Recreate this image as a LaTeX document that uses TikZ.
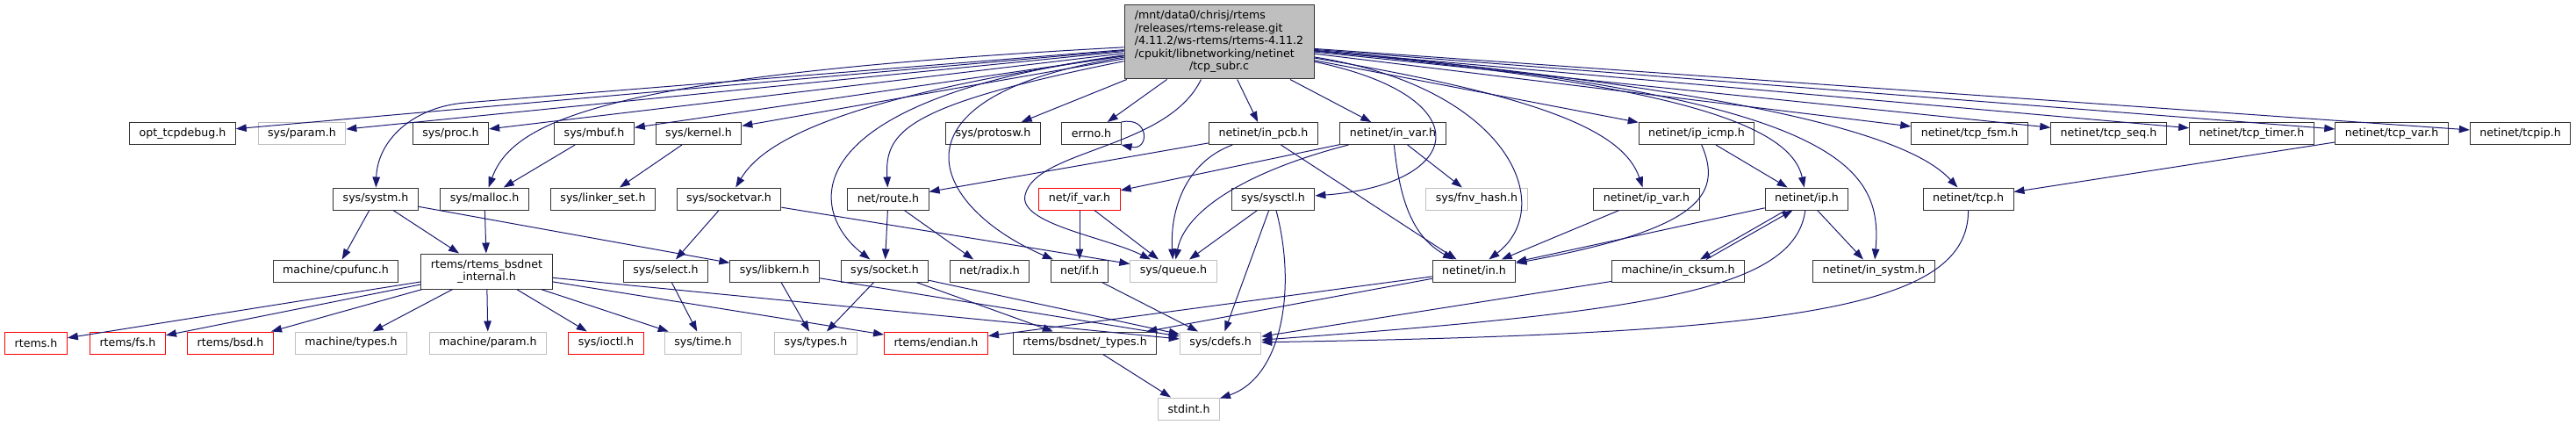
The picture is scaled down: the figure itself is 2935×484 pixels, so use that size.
\documentclass[tikz,border=0pt]{standalone}
\usepackage{fontspec}
\setmainfont{DejaVu Sans}
\usetikzlibrary{arrows.meta}

\definecolor{edgeblue}{RGB}{25,25,112}
\definecolor{lightgrey}{RGB}{191,191,191}

\tikzset{
  hdr/.style={draw=black!80, line width=1pt, rectangle, inner xsep=11pt, inner ysep=0pt,
    minimum height=25pt, font=\fontsize{12.6}{14.5}\selectfont},
  hdrgray/.style={hdr, draw=lightgrey},
  hdrred/.style={hdr, draw=red},
  dep/.style={draw=edgeblue, line width=1pt, -{Triangle[length=12pt,width=8.5pt]}}
}

\begin{document}
\begin{tikzpicture}[x=1pt, y=-1pt]
  \useasboundingbox (0,0) rectangle (2935,484);

  % The source file
  \node[hdr, fill=lightgrey, minimum width=216pt, minimum height=84pt] (root) at (1389,48)
    {\begin{tabular}{@{}l@{}}/mnt/data0/chrisj/rtems\\/releases/rtems-release.git\\/4.11.2/ws-rtems/rtems-4.11.2\\/cpukit/libnetworking/netinet\\\multicolumn{1}{@{}c@{}}{/tcp\_subr.c}\end{tabular}};

  % First row of headers
  \node[hdr] (optdbg) at (208,152) {opt\_tcpdebug.h};
  \node[hdrgray] (param) at (344,152) {sys/param.h};
  \node[hdr] (proc) at (513.5,152) {sys/proc.h};
  \node[hdr] (mbuf) at (677,152) {sys/mbuf.h};
  \node[hdr] (kernel) at (796,152) {sys/kernel.h};
  \node[hdr] (protosw) at (1131.5,152) {sys/protosw.h};
  \node[hdr] (errno) at (1243.5,152) {errno.h};
  \node[hdr] (inpcb) at (1439.5,152) {netinet/in\_pcb.h};
  \node[hdr] (invar) at (1587,152) {netinet/in\_var.h};
  \node[hdr] (ipicmp) at (1933,152) {netinet/ip\_icmp.h};
  \node[hdr] (tcpfsm) at (2244,152) {netinet/tcp\_fsm.h};
  \node[hdr] (tcpseq) at (2402.5,152) {netinet/tcp\_seq.h};
  \node[hdr] (tcptimer) at (2565.5,152) {netinet/tcp\_timer.h};
  \node[hdr] (tcpvar) at (2725,152) {netinet/tcp\_var.h};
  \node[hdr] (tcpip) at (2871.5,152) {netinet/tcpip.h};

  % Second row
  \node[hdr] (systm) at (428,226.5) {sys/systm.h};
  \node[hdr] (malloc) at (552,226.5) {sys/malloc.h};
  \node[hdr] (linker) at (687,226.5) {sys/linker\_set.h};
  \node[hdr] (socketvar) at (830.5,226.5) {sys/socketvar.h};
  \node[hdr] (route) at (1012,226.5) {net/route.h};
  \node[hdrred] (ifvar) at (1230,226.5) {net/if\_var.h};
  \node[hdr] (sysctl) at (1450.5,226.5) {sys/sysctl.h};
  \node[hdrgray] (fnvhash) at (1682.5,226.5) {sys/fnv\_hash.h};
  \node[hdr] (ipvar) at (1876,226.5) {netinet/ip\_var.h};
  \node[hdr] (ip) at (2058.5,226.5) {netinet/ip.h};
  \node[hdr] (tcp) at (2242.5,226.5) {netinet/tcp.h};

  % Third row
  \node[hdr] (cpufunc) at (382.5,308.5) {machine/cpufunc.h};
  \node[hdr, align=center, minimum height=40pt] (bsdint) at (554.5,309) {rtems/rtems\_bsdnet\\\_internal.h};
  \node[hdr] (select) at (758.5,308.5) {sys/select.h};
  \node[hdr] (libkern) at (882.5,308.5) {sys/libkern.h};
  \node[hdr] (socket) at (1008,308.5) {sys/socket.h};
  \node[hdr] (radix) at (1127.5,308.5) {net/radix.h};
  \node[hdr] (netif) at (1230,308.5) {net/if.h};
  \node[hdrgray] (queue) at (1337,308.5) {sys/queue.h};
  \node[hdr] (netin) at (1679.5,308.5) {netinet/in.h};
  \node[hdr] (incksum) at (1912,308.5) {machine/in\_cksum.h};
  \node[hdr] (insystm) at (2135,308.5) {netinet/in\_systm.h};

  % Fourth row
  \node[hdrred] (rtems) at (41,390.5) {rtems.h};
  \node[hdrred] (rtemsfs) at (145.5,390.5) {rtems/fs.h};
  \node[hdrred] (rtemsbsd) at (262.5,390.5) {rtems/bsd.h};
  \node[hdrgray] (mtypes) at (400,390.5) {machine/types.h};
  \node[hdrgray] (mparam) at (556,390.5) {machine/param.h};
  \node[hdrred] (ioctl) at (690.5,390.5) {sys/ioctl.h};
  \node[hdrgray] (systime) at (801,390.5) {sys/time.h};
  \node[hdrgray] (systypes) at (929.5,390.5) {sys/types.h};
  \node[hdrred] (endian) at (1066.5,390.5) {rtems/endian.h};
  \node[hdr] (btypes) at (1236,390.5) {rtems/bsdnet/\_types.h};
  \node[hdrgray] (cdefs) at (1390.5,390.5) {sys/cdefs.h};

  \node[hdrgray] (stdint) at (1354.5,465.5) {stdint.h};

  % Straight includes
  \foreach \a/\b in {root/optdbg, root/param, root/proc, root/mbuf, root/kernel, root/protosw,
      root/errno, root/inpcb, root/invar, root/ipicmp, root/tcpfsm, root/tcpseq, root/tcptimer,
      root/tcpvar, root/tcpip, mbuf/malloc, kernel/linker, malloc/bsdint, systm/cpufunc,
      systm/bsdint, systm/libkern, socketvar/select, socketvar/queue, route/socket, route/radix,
      ifvar/netif, ifvar/queue, invar/ifvar, invar/fnvhash, inpcb/route, inpcb/netin,
      sysctl/queue, sysctl/cdefs, ipvar/netin, ipicmp/ip, ip/netin, ip/insystm, tcpvar/tcp,
      bsdint/rtems, bsdint/rtemsfs, bsdint/rtemsbsd, bsdint/mtypes, bsdint/mparam, bsdint/ioctl,
      bsdint/systime, bsdint/endian, bsdint/cdefs, select/systime, libkern/systypes,
      libkern/cdefs, socket/systypes, socket/btypes, socket/cdefs, netif/cdefs, netin/endian,
      netin/btypes, incksum/cdefs, btypes/stdint}
    \draw[dep] (\a) -- (\b);

  % Curved includes
  \draw[dep] (root) -- (530,117) .. controls (470,122) and (430,160) .. (systm);
  \draw[dep] (root) .. controls (700,85) and (585,135) .. (malloc);
  \draw[dep] (root) .. controls (960,110) and (870,160) .. (socketvar);
  \draw[dep] (root) .. controls (1030,120) and (1008,150) .. (route);
  \draw[dep] (root) .. controls (900,115) and (920,240) .. (socket);
  \draw[dep] (root) .. controls (1000,110) and (1060,235) .. (netif);
  \draw[dep] (root) .. controls (1330,170) and (1180,170) .. (1168,222)
    .. controls (1160,255) and (1260,270) .. (queue);
  \draw[dep] (root) .. controls (1690,110) and (1670,210) .. (sysctl);
  \draw[dep] (root) .. controls (1720,100) and (1775,235) .. (netin);
  \draw[dep] (root) .. controls (1760,110) and (1850,150) .. (ipvar);
  \draw[dep] (root) .. controls (1900,95) and (2040,140) .. (ip);
  \draw[dep] (root) .. controls (2100,110) and (2145,190) .. (insystm);
  \draw[dep] (root) .. controls (2080,110) and (2190,170) .. (tcp);
  \draw[dep] (errno.north east) .. controls (1310,132) and (1310,172) .. (errno.south east);
  \draw[dep] (inpcb) .. controls (1350,185) and (1333,240) .. (queue);
  \draw[dep] (invar) .. controls (1420,195) and (1350,240) .. (queue);
  \draw[dep] (invar) .. controls (1595,230) and (1610,270) .. (netin);
  \draw[dep] (ipicmp) .. controls (1965,225) and (1930,262) .. (netin);
  \draw[dep] (sysctl) .. controls (1478,330) and (1460,430) .. (stdint);
  \draw[dep] (ip) .. controls (2045,330) and (1880,355) .. (cdefs);
  \draw[dep] (tcp) .. controls (2243,350) and (2050,380) .. (cdefs);
  \draw[dep] ([xshift=-24pt]ip.south) -- ([xshift=25pt]incksum.north);
  \draw[dep] ([xshift=32pt]incksum.north) -- ([xshift=-16pt]ip.south);
\end{tikzpicture}
\end{document}
